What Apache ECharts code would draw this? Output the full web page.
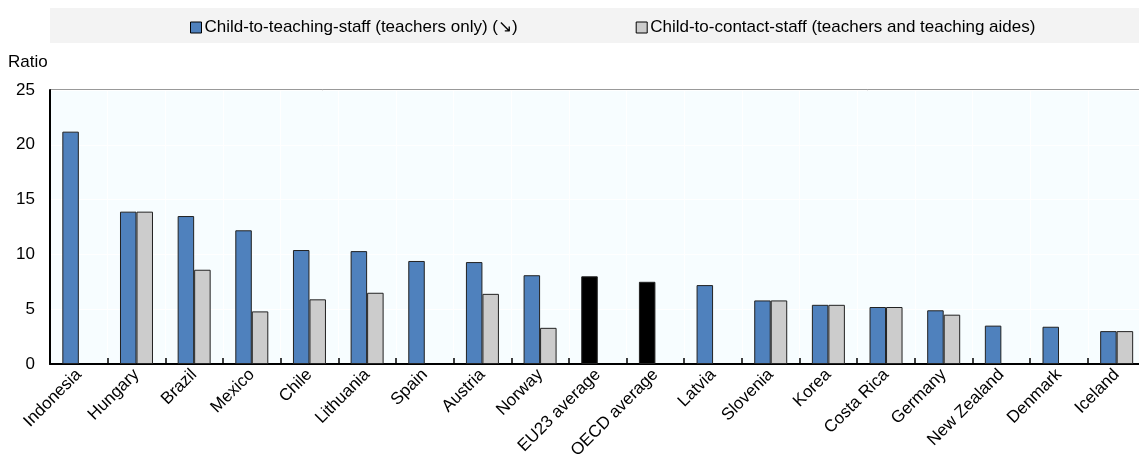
<!DOCTYPE html>
<html>
<head>
<meta charset="utf-8">
<title>Child-to-staff ratios</title>
<script src="https://cdn.jsdelivr.net/npm/echarts@6/dist/echarts.min.js"></script>
<style>
  html, body { margin: 0; padding: 0; background: #fff; }
  #chart { width: 1139px; height: 454px; }
</style>
</head>
<body>
<div id="chart"></div>
<script>
// data
var countries = ['Indonesia', 'Hungary', 'Brazil', 'Mexico', 'Chile', 'Lithuania', 'Spain', 'Austria', 'Norway',
    'EU23 average', 'OECD average', 'Latvia', 'Slovenia', 'Korea', 'Costa Rica', 'Germany', 'New Zealand', 'Denmark', 'Iceland'];
var teachingStaff = [21.2, 13.9, 13.5, 12.2, 10.4, 10.3, 9.4, 9.3, 8.1, 8.0, 7.5, 7.2, 5.8, 5.4, 5.2, 4.9, 3.5, 3.4, 3.0];
var contactStaff = [null, 13.9, 8.6, 4.8, 5.9, 6.5, null, 6.4, 3.3, null, null, null, 5.8, 5.4, 5.2, 4.5, null, null, 3.0];
var yTicks = [0, 5, 10, 15, 20, 25];

var FONT = '"Liberation Sans Narrow", "Arial Narrow", "Liberation Sans", Arial, sans-serif';
var averages = ['EU23 average', 'OECD average'];

var myChart = echarts.init(document.getElementById('chart'));

// averages drawn in black, in the first series slot
var teachData = teachingStaff.map(function (v, i) {
    if (averages.indexOf(countries[i]) >= 0) {
        return { value: v, itemStyle: { color: '#000000' } };
    }
    return v;
});

option = {
    animation: false,
    textStyle: { fontFamily: FONT },
    graphic: [
        {
            type: 'rect',
            left: 50, top: 8,
            shape: { width: 1089, height: 35 },
            style: { fill: '#F3F3F3' },
            z: -1
        },
        {
            type: 'text',
            left: 8, top: 54,
            style: { text: 'Ratio', font: '17px ' + FONT, fill: '#000' }
        }
    ],
    legend: {
        left: 185,
        top: 14,
        itemWidth: 11,
        itemHeight: 11,
        itemGap: 118,
        icon: 'rect',
        textStyle: { fontFamily: FONT, fontSize: 17, color: '#000', padding: [0, 0, 0, -2] },
        itemStyle: { borderColor: '#000', borderWidth: 1 },
        data: ['Child-to-teaching-staff (teachers only) (\u2198)', 'Child-to-contact-staff (teachers and teaching aides)']
    },
    grid: {
        left: 50,
        width: 1095.5,
        top: 90,
        bottom: 90,
        outerBoundsMode: 'none',
        containLabel: false,
        show: true,
        backgroundColor: '#F7FDFF',
        borderColor: '#333',
        borderWidth: 1
    },
    xAxis: {
        type: 'category',
        data: countries,
        axisLine: { lineStyle: { color: '#000', width: 2 } },
        axisTick: { show: true, inside: true, length: 6, lineStyle: { color: '#000', width: 1.5 } },
        splitLine: { show: true, lineStyle: { color: '#ffffff', width: 1 } },
        axisLabel: {
            rotate: 45,
            interval: 0,
            margin: 8,
            fontFamily: FONT,
            fontSize: 17,
            color: '#000'
        }
    },
    yAxis: {
        type: 'value',
        min: yTicks[0],
        max: yTicks[yTicks.length - 1],
        interval: 5,
        axisLine: { show: true, lineStyle: { color: '#000', width: 2 } },
        axisTick: { show: false },
        splitLine: { show: true, lineStyle: { color: '#ffffff', width: 1 } },
        axisLabel: { fontFamily: FONT, fontSize: 17, color: '#000', margin: 15 }
    },
    series: [
        {
            name: 'Child-to-teaching-staff (teachers only) (\u2198)',
            type: 'bar',
            barWidth: 16.5,
            barGap: '0%',
            itemStyle: { color: '#4F81BD', borderColor: '#222', borderWidth: 1 },
            data: teachData
        },
        {
            name: 'Child-to-contact-staff (teachers and teaching aides)',
            type: 'bar',
            barWidth: 16.5,
            barGap: '0%',
            itemStyle: { color: '#CCCCCC', borderColor: '#222', borderWidth: 1 },
            data: contactStaff
        }
    ]
};

myChart.setOption(option);
</script>
</body>
</html>
